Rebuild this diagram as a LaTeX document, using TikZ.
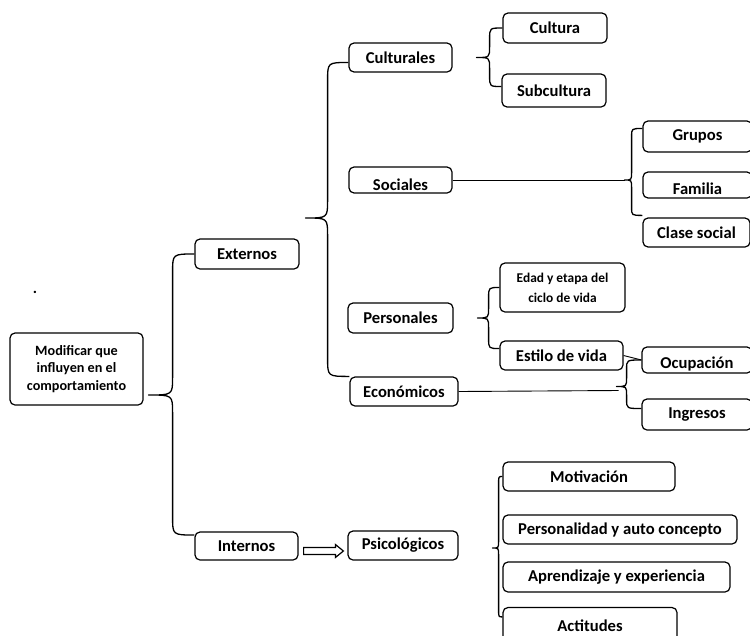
\documentclass[tikz,border=0pt]{standalone}
\usepackage{fontspec}
\setmainfont{Carlito}
\usetikzlibrary{calc,arrows.meta}
\newcommand\mybox[6]{\node[box, minimum width=#4pt, minimum height=#5pt] (#1) at (#2,#3) {#6};}
\newcommand\mybrace[5]{\draw[brc] let \p1=(#1),\p2=(#2),\p3=(#3) in (\p1) .. controls (\x3+#4,\y1) .. (\x3+#4,\y1-#5) -- (\x3+#4,\y3+#5) .. controls (\x3+#4,\y3) .. (\p3) .. controls (\x3+#4,\y3) .. (\x3+#4,\y3-#5) -- (\x3+#4,\y2+#5) .. controls (\x3+#4,\y2) .. (\p2);}
\newcommand\low[2]{\raisebox{-#1pt}[0pt][0pt]{#2}}
\begin{document}
\begin{tikzpicture}[x=1pt,y=-1pt,
 box/.style={draw, rounded corners=5pt, line width=1.2pt, inner sep=0pt, font=\fontsize{16.6}{19}\selectfont\bfseries, align=center},
 brc/.style={line width=1.3pt, line join=round},
 lnk/.style={line width=0.9pt}]
\useasboundingbox (0,0) rectangle (750,635);
% nodes
\node[box, minimum width=133pt, minimum height=72pt, font=\fontsize{14.2}{17.5}\selectfont\bfseries] (root) at (76.5,369) {Modificar que\\influyen en el\\comportamiento};
\node[font=\fontsize{16}{19}\selectfont\bfseries, inner sep=0pt] (dot) at (35,292) {.};
\mybox{externos}{247}{254}{104}{30}{Externos}
\mybox{internos}{246.5}{546}{103}{28}{Internos}
\mybox{psico}{403}{545.5}{110}{29}{Psicológicos}
\mybox{culturales}{400.5}{57.5}{103}{29}{Culturales}
\mybox{sociales}{400.5}{180}{103}{26}{\low{10}{Sociales}}
\mybox{cultura}{555}{28}{104}{30}{Cultura}
\mybox{subcultura}{554}{90.5}{104}{33}{Subcultura}
\mybox{grupos}{697.5}{136.5}{109}{31}{Grupos}
\mybox{familia}{697.5}{185}{109}{26}{\low{9.5}{Familia}}
\mybox{clase}{696.5}{232.5}{107}{29}{Clase social}
\mybox{personales}{400.5}{318}{105}{30}{Personales}
\node[box, minimum width=125pt, minimum height=49pt, font=\fontsize{13.4}{20}\selectfont\bfseries] (edad) at (562.5,287.5) {Edad y etapa del\\ciclo de vida};
\mybox{estilo}{561.5}{355.5}{123}{29}{Estilo de vida}
\mybox{economicos}{404}{391.5}{108}{29}{Económicos}
\mybox{ocupacion}{697}{360}{110}{26}{\low{8.5}{Ocupación}}
\mybox{ingresos}{697}{414.5}{110}{31}{Ingresos}
\mybox{motivacion}{589}{476.5}{172}{29}{Motivación}
\mybox{personalidad}{620}{529.5}{234}{29}{Personalidad y auto concepto}
\mybox{aprendizaje}{616.5}{577}{227}{30}{Aprendizaje y experiencia}
\mybox{actitudes}{590}{626}{174}{37}{Actitudes}
% helper coordinates
\coordinate (rootTip) at ($(root.east)+(5,26)$);
\coordinate (intTop) at ($(internos.west)+(0,-11)$);
\coordinate (extTip) at ($(externos.east)+(6,-36)$);
\coordinate (culTop) at ($(culturales.west)+(0,5)$);
\coordinate (ecoTop) at (economicos.north west);
\coordinate (culTip) at ($(culturales.east)+(24,0)$);
\coordinate (subTop) at ($(subcultura.west)+(0,-4)$);
\coordinate (socTip) at ($(sociales.east)+(172,0)$);
\coordinate (grpTop) at ($(grupos.west)+(0,-8)$);
\coordinate (claTop) at ($(clase.north west)+(0,-2)$);
\coordinate (perTip) at ($(personales.east)+(24,0)$);
\coordinate (estTop) at ($(estilo.west)+(0,-7)$);
\coordinate (ecoTip) at ($(economicos.east)+(158,-5)$);
\coordinate (ecoEnd) at ($(economicos.east)+(160,-1)$);
\coordinate (ingTop) at ($(ingresos.west)+(0,-6)$);
\coordinate (psiTip) at ($(psico.east)+(34,2.5)$);
\coordinate (actTop) at ($(actitudes.north west)+(0,10)$);
% braces
\mybrace{externos.west}{intTop}{rootTip}{24pt}{18pt}
\mybrace{culTop}{ecoTop}{extTip}{22pt}{18pt}
\mybrace{cultura.west}{subTop}{culTip}{13pt}{11pt}
\mybrace{grpTop}{claTop}{socTip}{7pt}{8pt}
\mybrace{edad.west}{estTop}{perTip}{11pt}{10pt}
\mybrace{ocupacion.west}{ingTop}{ecoTip}{10pt}{9pt}
\mybrace{motivacion.west}{actTop}{psiTip}{6pt}{7pt}
% connectors
\draw[lnk] (sociales.east) -- (socTip);
\draw[lnk] (economicos.east) -- (ecoEnd);
\draw[lnk] (estilo.east) -- (ocupacion.west);
\draw[line width=1.2pt, line join=miter] let \p1=($(internos.east)+(5,5)$), \p2=($(psico.west)+(-4,5.5)$) in
  (\x1,\y1-3.5) -- (\x2-8,\y1-3.5) -- (\x2-8,\y1-6.5) -- (\x2,\y1) -- (\x2-8,\y1+6.5) -- (\x2-8,\y1+3.5) -- (\x1,\y1+3.5) -- cycle;
\end{tikzpicture}
\end{document}
